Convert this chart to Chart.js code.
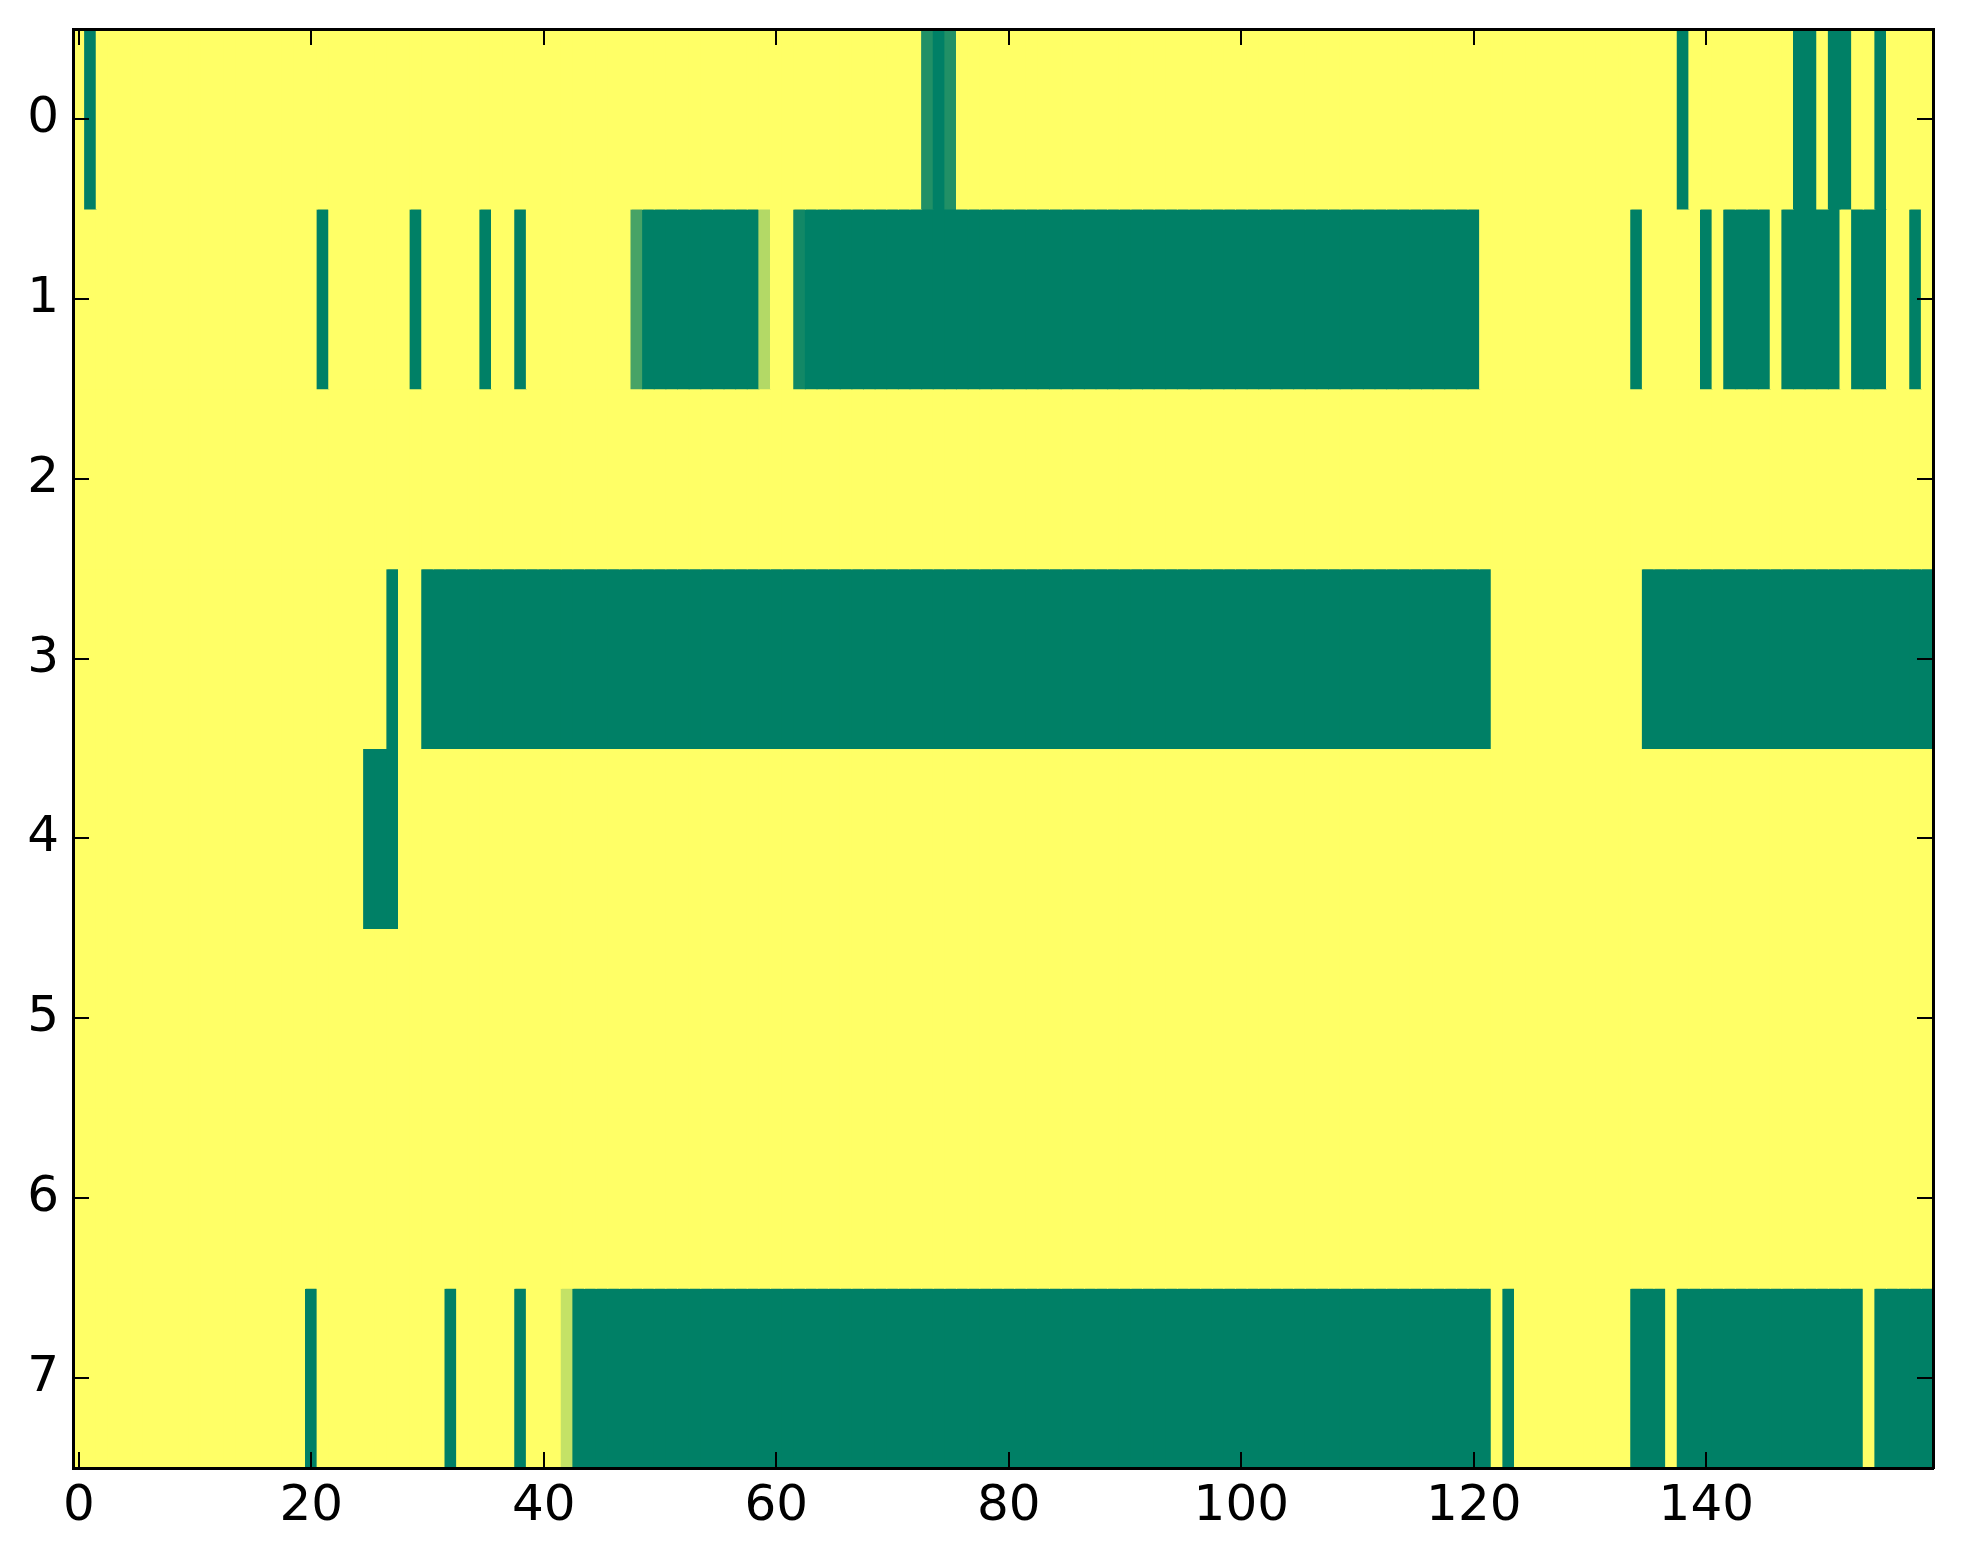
<!DOCTYPE html>
<html>
<head>
<meta charset="utf-8">
<script src="https://cdn.jsdelivr.net/npm/chart.js@4.4.1/dist/chart.umd.min.js"></script>
<style>
  body { margin: 0; background: #fff; }
  #wrap { width: 1963px; height: 1564px; }
</style>
</head>
<body>
<div id="wrap"><canvas id="heatmap" width="1963" height="1564"></canvas></div>
<script>
// cell values per row, 160 columns each (0 = green end of the map, 1 = yellow end)
const row0 = [
  1,0,1,1,1,1,1,1,1,1, 1,1,1,1,1,1,1,1,1,1,
  1,1,1,1,1,1,1,1,1,1, 1,1,1,1,1,1,1,1,1,1,
  1,1,1,1,1,1,1,1,1,1, 1,1,1,1,1,1,1,1,1,1,
  1,1,1,1,1,1,1,1,1,1, 1,1,1,0.13,0,0.13,1,1,1,1,
  1,1,1,1,1,1,1,1,1,1, 1,1,1,1,1,1,1,1,1,1,
  1,1,1,1,1,1,1,1,1,1, 1,1,1,1,1,1,1,1,1,1,
  1,1,1,1,1,1,1,1,1,1, 1,1,1,1,1,1,1,1,0,1,
  1,1,1,1,1,1,1,1,0,0, 1,0,0,1,1,0,1,1,1,1
];
const row1 = [
  1,1,1,1,1,1,1,1,1,1, 1,1,1,1,1,1,1,1,1,1,
  1,0,1,1,1,1,1,1,1,0, 1,1,1,1,1,0,1,1,0,1,
  1,1,1,1,1,1,1,1,0.28,0, 0,0,0,0,0,0,0,0,0,0.7,
  1,1,0.07,0,0,0,0,0,0,0, 0,0,0,0,0,0,0,0,0,0,
  0,0,0,0,0,0,0,0,0,0, 0,0,0,0,0,0,0,0,0,0,
  0,0,0,0,0,0,0,0,0,0, 0,0,0,0,0,0,0,0,0,0,
  0,1,1,1,1,1,1,1,1,1, 1,1,1,1,0,1,1,1,1,1,
  0,1,0,0,0,0,1,0,0,0, 0,0,1,0,0,0,1,1,0,1
];
const row2 = [
  1,1,1,1,1,1,1,1,1,1, 1,1,1,1,1,1,1,1,1,1,
  1,1,1,1,1,1,1,1,1,1, 1,1,1,1,1,1,1,1,1,1,
  1,1,1,1,1,1,1,1,1,1, 1,1,1,1,1,1,1,1,1,1,
  1,1,1,1,1,1,1,1,1,1, 1,1,1,1,1,1,1,1,1,1,
  1,1,1,1,1,1,1,1,1,1, 1,1,1,1,1,1,1,1,1,1,
  1,1,1,1,1,1,1,1,1,1, 1,1,1,1,1,1,1,1,1,1,
  1,1,1,1,1,1,1,1,1,1, 1,1,1,1,1,1,1,1,1,1,
  1,1,1,1,1,1,1,1,1,1, 1,1,1,1,1,1,1,1,1,1
];
const row3 = [
  1,1,1,1,1,1,1,1,1,1, 1,1,1,1,1,1,1,1,1,1,
  1,1,1,1,1,1,1,0,1,1, 0,0,0,0,0,0,0,0,0,0,
  0,0,0,0,0,0,0,0,0,0, 0,0,0,0,0,0,0,0,0,0,
  0,0,0,0,0,0,0,0,0,0, 0,0,0,0,0,0,0,0,0,0,
  0,0,0,0,0,0,0,0,0,0, 0,0,0,0,0,0,0,0,0,0,
  0,0,0,0,0,0,0,0,0,0, 0,0,0,0,0,0,0,0,0,0,
  0,0,1,1,1,1,1,1,1,1, 1,1,1,1,1,0,0,0,0,0,
  0,0,0,0,0,0,0,0,0,0, 0,0,0,0,0,0,0,0,0,0
];
const row4 = [
  1,1,1,1,1,1,1,1,1,1, 1,1,1,1,1,1,1,1,1,1,
  1,1,1,1,1,0,0,0,1,1, 1,1,1,1,1,1,1,1,1,1,
  1,1,1,1,1,1,1,1,1,1, 1,1,1,1,1,1,1,1,1,1,
  1,1,1,1,1,1,1,1,1,1, 1,1,1,1,1,1,1,1,1,1,
  1,1,1,1,1,1,1,1,1,1, 1,1,1,1,1,1,1,1,1,1,
  1,1,1,1,1,1,1,1,1,1, 1,1,1,1,1,1,1,1,1,1,
  1,1,1,1,1,1,1,1,1,1, 1,1,1,1,1,1,1,1,1,1,
  1,1,1,1,1,1,1,1,1,1, 1,1,1,1,1,1,1,1,1,1
];
const row5 = [
  1,1,1,1,1,1,1,1,1,1, 1,1,1,1,1,1,1,1,1,1,
  1,1,1,1,1,1,1,1,1,1, 1,1,1,1,1,1,1,1,1,1,
  1,1,1,1,1,1,1,1,1,1, 1,1,1,1,1,1,1,1,1,1,
  1,1,1,1,1,1,1,1,1,1, 1,1,1,1,1,1,1,1,1,1,
  1,1,1,1,1,1,1,1,1,1, 1,1,1,1,1,1,1,1,1,1,
  1,1,1,1,1,1,1,1,1,1, 1,1,1,1,1,1,1,1,1,1,
  1,1,1,1,1,1,1,1,1,1, 1,1,1,1,1,1,1,1,1,1,
  1,1,1,1,1,1,1,1,1,1, 1,1,1,1,1,1,1,1,1,1
];
const row6 = [
  1,1,1,1,1,1,1,1,1,1, 1,1,1,1,1,1,1,1,1,1,
  1,1,1,1,1,1,1,1,1,1, 1,1,1,1,1,1,1,1,1,1,
  1,1,1,1,1,1,1,1,1,1, 1,1,1,1,1,1,1,1,1,1,
  1,1,1,1,1,1,1,1,1,1, 1,1,1,1,1,1,1,1,1,1,
  1,1,1,1,1,1,1,1,1,1, 1,1,1,1,1,1,1,1,1,1,
  1,1,1,1,1,1,1,1,1,1, 1,1,1,1,1,1,1,1,1,1,
  1,1,1,1,1,1,1,1,1,1, 1,1,1,1,1,1,1,1,1,1,
  1,1,1,1,1,1,1,1,1,1, 1,1,1,1,1,1,1,1,1,1
];
const row7 = [
  1,1,1,1,1,1,1,1,1,1, 1,1,1,1,1,1,1,1,1,1,
  0,1,1,1,1,1,1,1,1,1, 1,1,0,1,1,1,1,1,0,1,
  1,1,0.77,0,0,0,0,0,0,0, 0,0,0,0,0,0,0,0,0,0,
  0,0,0,0,0,0,0,0,0,0, 0,0,0,0,0,0,0,0,0,0,
  0,0,0,0,0,0,0,0,0,0, 0,0,0,0,0,0,0,0,0,0,
  0,0,0,0,0,0,0,0,0,0, 0,0,0,0,0,0,0,0,0,0,
  0,0,1,0,1,1,1,1,1,1, 1,1,1,1,0,0,0,1,0,0,
  0,0,0,0,0,0,0,0,0,0, 0,0,0,0,1,0,0,0,0,0
];

const rows = [row0, row1, row2, row3, row4, row5, row6, row7];
const xTicks = [0, 20, 40, 60, 80, 100, 120, 140];
const yTicks = [0, 1, 2, 3, 4, 5, 6, 7];

// matplotlib "summer" colormap
function summer(v) {
    const r = Math.round(255 * v);
    const g = Math.round(255 * (0.5 + 0.5 * v));
    return 'rgb(' + r + ',' + g + ',102)';
}

const datasets = rows.map((vals, r) => ({
    data: vals.map((v, c) => ({ x: c, y: [r - 0.5, r + 0.5] })),
    backgroundColor: vals.map(summer),
    borderWidth: 0,
    grouped: false,
    barPercentage: 1,
    categoryPercentage: 1,
    inflateAmount: 0.5
}));

const tickFont = { family: 'DejaVu Sans', size: 50 };

function axisGrid() {
    return { drawOnChartArea: false, tickLength: -16, color: '#000', lineWidth: 2, offset: false, z: 1 };
}
function axisBorder() {
    return { display: true, color: '#000', width: 3, z: 1 };
}
// fixed axis box sizes, and no extra label padding pushing the plot area in
function fixSize(w, h) {
    return s => {
        if (w !== null) s.width = w;
        if (h !== null) s.height = h;
        s.paddingTop = 0; s.paddingBottom = 0; s.paddingLeft = 0; s.paddingRight = 0;
    };
}

const plotBackground = {
    id: 'plotBackground',
    beforeDatasetsDraw(chart) {
        const { ctx, chartArea: a } = chart;
        ctx.save();
        ctx.fillStyle = summer(1);
        ctx.fillRect(a.left, a.top, a.right - a.left, a.bottom - a.top);
        ctx.restore();
    }
};

document.addEventListener("DOMContentLoaded", function() {
    const ctx = document.getElementById('heatmap').getContext('2d');
    new Chart(ctx, {
        type: 'bar',
        data: { datasets: datasets },
        plugins: [plotBackground],
        options: {
            responsive: false,
            animation: false,
            devicePixelRatio: 1,
            layout: { padding: { top: 29, right: 30, bottom: 0, left: 0 } },
            plugins: { legend: { display: false }, tooltip: { enabled: false } },
            scales: {
                x: {
                    type: 'linear', position: 'bottom', min: -0.5, max: 159.5, offset: false,
                    afterBuildTicks: s => { s.ticks = xTicks.map(v => ({ value: v })); },
                    afterFit: fixSize(null, 96),
                    ticks: { font: tickFont, color: '#000', padding: 25, maxRotation: 0, autoSkip: false },
                    grid: axisGrid(),
                    border: axisBorder()
                },
                x2: {
                    type: 'linear', axis: 'x', position: 'top', min: -0.5, max: 159.5, offset: false,
                    afterBuildTicks: s => { s.ticks = xTicks.map(v => ({ value: v })); },
                    afterFit: fixSize(null, 0),
                    ticks: { display: false },
                    grid: axisGrid(),
                    border: axisBorder()
                },
                y: {
                    type: 'linear', position: 'left', min: -0.5, max: 7.5, reverse: true,
                    afterBuildTicks: s => { s.ticks = yTicks.map(v => ({ value: v })); },
                    afterFit: fixSize(73, null),
                    ticks: { font: tickFont, color: '#000', padding: 30, autoSkip: false },
                    grid: axisGrid(),
                    border: axisBorder()
                },
                y2: {
                    type: 'linear', axis: 'y', position: 'right', min: -0.5, max: 7.5, reverse: true,
                    afterBuildTicks: s => { s.ticks = yTicks.map(v => ({ value: v })); },
                    afterFit: fixSize(0, null),
                    ticks: { display: false },
                    grid: axisGrid(),
                    border: axisBorder()
                }
            }
        }
    });
});
</script>
</body>
</html>
